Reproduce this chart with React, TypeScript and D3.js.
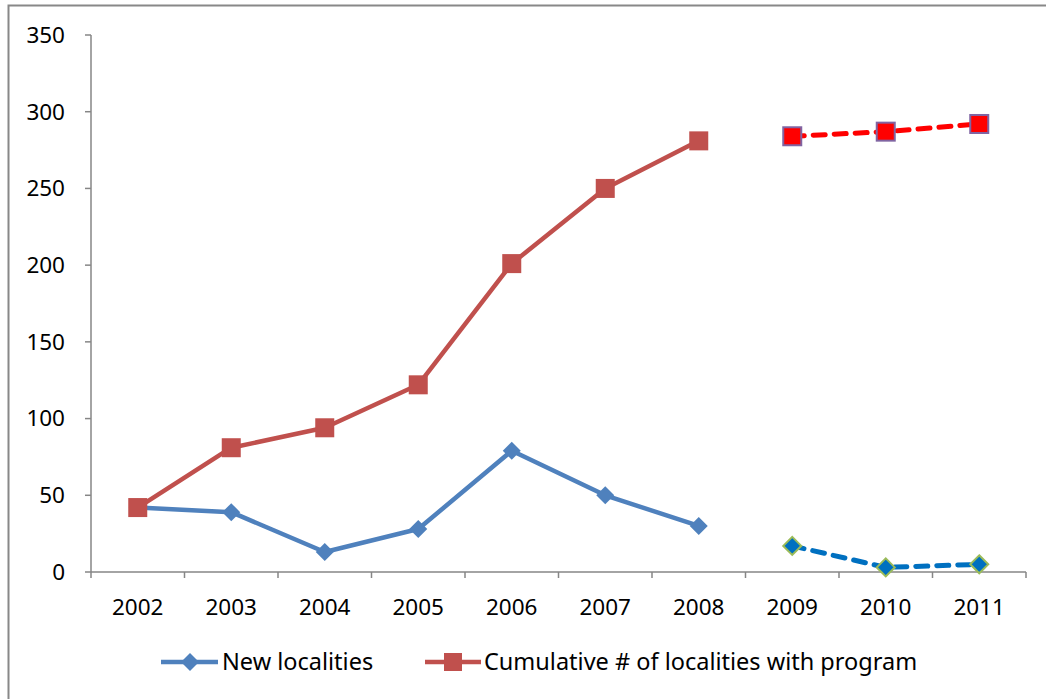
import React from "react";
import * as d3 from "d3";

const years = ["2002", "2003", "2004", "2005", "2006", "2007", "2008", "2009", "2010", "2011"];
const newLocalities = [42, 39, 13, 28, 79, 50, 30];
const newProjected = [17, 3, 5];
const cumulative = [42, 81, 94, 122, 201, 250, 281];
const cumProjected = [284, 287, 292];
const yTicks = [0, 50, 100, 150, 200, 250, 300, 350];
const legendLabels = ["New localities", "Cumulative # of localities with program"];

const W = 1046;
const H = 699;
const left = 91;
const right = 1026;
const top = 35;
const bottom = 572;
const FONT = "'Noto Sans', 'Open Sans', sans-serif";
const axisColor = "#868686";

export default function App() {
  const x = d3.scaleBand<string>().domain(years).range([left, right]);
  const cx = (i: number) => (x(years[i]) as number) + x.bandwidth() / 2;
  const y = d3.scaleLinear().domain([0, 350]).range([bottom, top]);
  const line = d3.line<[number, number]>().x((d) => d[0]).y((d) => d[1]);

  const actualPts = (arr: number[]) => arr.map((v, i) => [cx(i), y(v)] as [number, number]);
  const projPts = (arr: number[]) => arr.map((v, i) => [cx(i + 7), y(v)] as [number, number]);

  const diamond = (px: number, py: number, r: number, fill: string, stroke?: string, key?: string) => (
    <path
      key={key}
      d={`M${px},${py - r}L${px + r},${py}L${px},${py + r}L${px - r},${py}Z`}
      fill={fill}
      stroke={stroke || "none"}
      strokeWidth={stroke ? 2 : 0}
    />
  );
  const square = (px: number, py: number, s: number, fill: string, stroke?: string, key?: string) => (
    <rect
      key={key}
      x={px - s / 2}
      y={py - s / 2}
      width={s}
      height={s}
      fill={fill}
      stroke={stroke || "none"}
      strokeWidth={stroke ? 2 : 0}
    />
  );

  return (
    <svg width={W} height={H} style={{ position: "absolute", left: 0, top: 0, background: "#fff" }}>
      <rect x={8.5} y={5.5} width={W + 10} height={H + 10} fill="none" stroke="#888" strokeWidth={2} />
      {/* axes */}
      <line x1={left} x2={left} y1={top} y2={bottom} stroke={axisColor} strokeWidth={1.5} />
      <line x1={left} x2={right} y1={bottom} y2={bottom} stroke={axisColor} strokeWidth={1.5} />
      {yTicks.map((t) => (
        <g key={t}>
          <line x1={left - 6} x2={left} y1={y(t)} y2={y(t)} stroke={axisColor} strokeWidth={1.5} />
          <text x={65} y={y(t)} dy="0.35em" textAnchor="end" fontFamily={FONT} fontSize={22.5} fill="#000">
            {t}
          </text>
        </g>
      ))}
      {d3.range(years.length + 1).map((i) => {
        const xx = i < years.length ? (x(years[i]) as number) : right;
        return <line key={i} x1={xx} x2={xx} y1={bottom} y2={bottom + 6} stroke={axisColor} strokeWidth={1.5} />;
      })}
      {years.map((yr, i) => (
        <text key={yr} x={cx(i)} y={615} textAnchor="middle" fontFamily={FONT} fontSize={22.5} fill="#000">
          {yr}
        </text>
      ))}

      {/* actual series */}
      <path d={line(actualPts(newLocalities)) || ""} fill="none" stroke="#4F81BD" strokeWidth={4.5} strokeLinejoin="round" />
      <path d={line(actualPts(cumulative)) || ""} fill="none" stroke="#C0504D" strokeWidth={4.5} strokeLinejoin="round" />
      {actualPts(newLocalities).map((p, i) => diamond(p[0], p[1], 9, "#4F81BD", undefined, "nd" + i))}
      {actualPts(cumulative).map((p, i) => square(p[0], p[1], 19, "#C0504D", undefined, "cs" + i))}

      {/* projected series */}
      <path
        d={line(projPts(newProjected)) || ""}
        fill="none"
        stroke="#0070C0"
        strokeWidth={5}
        strokeDasharray="12 9"
        strokeLinecap="round"
      />
      <path
        d={line(projPts(cumProjected)) || ""}
        fill="none"
        stroke="#FF0000"
        strokeWidth={5}
        strokeDasharray="12 9"
        strokeLinecap="round"
      />
      {projPts(newProjected).map((p, i) => diamond(p[0], p[1], 9, "#0070C0", "#9BBB59", "pd" + i))}
      {projPts(cumProjected).map((p, i) => square(p[0], p[1], 18, "#FF0000", "#8064A2", "ps" + i))}

      {/* legend */}
      <line x1={161} x2={218} y1={662} y2={662} stroke="#4F81BD" strokeWidth={4.5} />
      {diamond(190, 662, 9, "#4F81BD")}
      <text x={222} y={662} dy="0.35em" fontFamily={FONT} fontSize={23.5} fill="#000">
        {legendLabels[0]}
      </text>
      <line x1={425} x2={481} y1={662} y2={662} stroke="#C0504D" strokeWidth={4.5} />
      {square(453, 662, 18, "#C0504D")}
      <text x={484} y={662} dy="0.35em" fontFamily={FONT} fontSize={23.5} fill="#000">
        {legendLabels[1]}
      </text>
    </svg>
  );
}
